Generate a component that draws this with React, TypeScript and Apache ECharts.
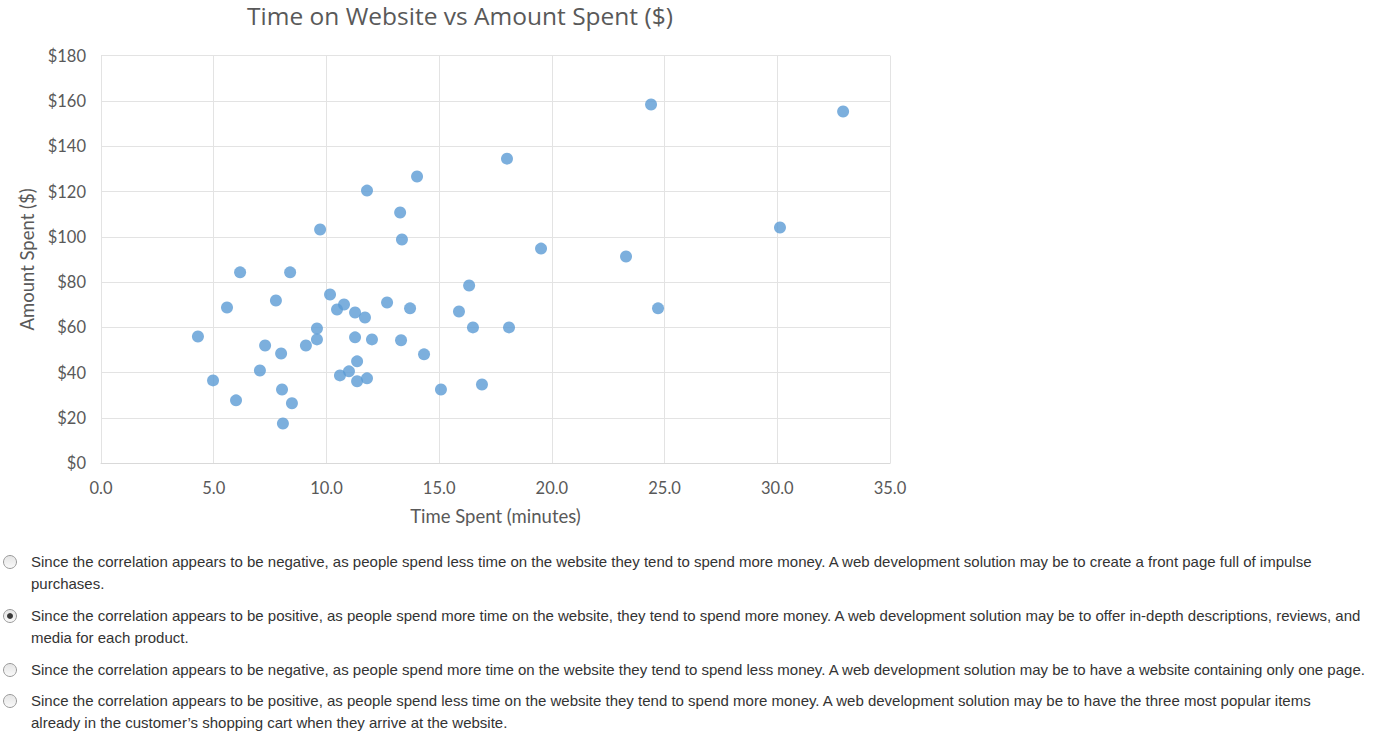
import React, { useEffect, useRef } from "react";
import * as echarts from "echarts";

const timeSpent: number[] = [
  4.3, 4.97, 5.59, 5.99, 6.17, 7.05, 7.28, 7.76, 7.99, 8.03,
  8.07, 8.39, 8.47, 9.09, 9.58, 9.58, 9.72, 10.16, 10.47, 10.6,
  10.78, 11.0, 11.27, 11.27, 11.36, 11.36, 11.71, 11.8, 11.8, 12.02,
  12.69, 13.27, 13.31, 13.35, 13.71, 14.02, 14.33, 15.08, 15.88, 16.33,
  16.5, 16.9, 18.01, 18.1, 19.52, 23.29, 24.4, 24.71, 30.12, 32.92,
];
const amountSpent: number[] = [
  56.0, 36.6, 68.8, 27.8, 84.3, 41.0, 52.0, 71.9, 48.5, 32.6,
  17.6, 84.3, 26.5, 52.0, 59.5, 54.7, 103.2, 74.5, 67.9, 38.8,
  70.1, 40.6, 66.6, 55.6, 45.0, 36.2, 64.4, 120.4, 37.5, 54.7,
  71.0, 110.7, 54.3, 98.8, 68.4, 126.6, 48.1, 32.6, 67.0, 78.5,
  60.0, 34.8, 134.5, 60.0, 94.8, 91.3, 158.4, 68.4, 104.1, 155.3,
];

const chartTitle = "Time on Website vs Amount Spent ($)";
const xName = "Time Spent (minutes)";
const yName = "Amount Spent ($)";

const optionLines: string[][] = [
  [
    "Since the correlation appears to be negative, as people spend less time on the website they tend to spend more money. A web development solution may be to create a front page full of impulse",
    "purchases.",
  ],
  [
    "Since the correlation appears to be positive, as people spend more time on the website, they tend to spend more money. A web development solution may be to offer in-depth descriptions, reviews, and",
    "media for each product.",
  ],
  [
    "Since the correlation appears to be negative, as people spend more time on the website they tend to spend less money. A web development solution may be to have a website containing only one page.",
  ],
  [
    "Since the correlation appears to be positive, as people spend less time on the website they tend to spend more money. A web development solution may be to have the three most popular items",
    "already in the customer\u2019s shopping cart when they arrive at the website.",
  ],
];
const selectedOption = 1;

export default function App() {
  const ref = useRef<HTMLDivElement>(null);
  useEffect(() => {
    if (!ref.current) return;
    const chart = echarts.init(ref.current, undefined, { renderer: "svg" });
    const data = timeSpent.map((t, i) => [t, amountSpent[i]]);

    const optionTops = [561, 615, 669, 700];
    const lineGap = 22;
    const graphics: any[] = [];
    optionLines.forEach((lines, i) => {
      const cy = optionTops[i];
      graphics.push({
        type: "circle",
        shape: { cx: 10, cy: cy + 1, r: 6.5 },
        style: {
          fill: new echarts.graphic.LinearGradient(0, 0, 0, 1, [
            { offset: 0, color: "#e4e4e4" },
            { offset: 1, color: "#fafafa" },
          ]),
          stroke: "#9a9a9a",
          lineWidth: 1,
        },
      });
      if (i === selectedOption) {
        graphics.push({
          type: "circle",
          shape: { cx: 10, cy: cy + 1, r: 3 },
          style: { fill: "#3a3a3a" },
        });
      }
      lines.forEach((ln, j) => {
        graphics.push({
          type: "text",
          x: 31,
          y: cy + j * lineGap,
          style: {
            text: ln,
            fill: "#333333",
            font: "15px 'Liberation Sans', Arial, sans-serif",
            textAlign: "left",
            textVerticalAlign: "middle",
          },
        });
      });
    });

    chart.setOption({
      animation: false,
      backgroundColor: "#ffffff",
      title: {
        text: chartTitle,
        left: 460,
        top: 3,
        padding: 0,
        textAlign: "center",
        textStyle: {
          color: "#595959",
          fontSize: 24.5,
          fontWeight: "normal",
          fontFamily: "'Open Sans', sans-serif",
        },
      },
      grid: { left: 101, top: 55.6, right: 486, bottom: 284.7 },
      xAxis: {
        type: "value",
        min: 0,
        max: 35,
        interval: 5,
        name: xName,
        nameLocation: "middle",
        nameGap: 43,
        nameTextStyle: { color: "#595959", fontSize: 18.5, fontFamily: "Lato, sans-serif" },
        axisLine: { show: true, lineStyle: { color: "#d9d9d9", width: 1 } },
        axisTick: { show: false },
        splitLine: { show: true, lineStyle: { color: "#e3e3e3", width: 1 } },
        axisLabel: {
          color: "#595959",
          fontSize: 16.5,
          fontFamily: "Lato, sans-serif",
          margin: 16,
          formatter: (v: number) => v.toFixed(1),
        },
      },
      yAxis: {
        type: "value",
        min: 0,
        max: 180,
        interval: 20,
        name: yName,
        nameLocation: "middle",
        nameGap: 57,
        nameTextStyle: { color: "#595959", fontSize: 18.5, fontFamily: "Lato, sans-serif" },
        axisLine: { show: true, lineStyle: { color: "#e3e3e3", width: 1 } },
        axisTick: { show: false },
        splitLine: { show: true, lineStyle: { color: "#e3e3e3", width: 1 } },
        axisLabel: {
          color: "#595959",
          fontSize: 16.5,
          fontFamily: "Lato, sans-serif",
          margin: 15,
          formatter: (v: number) => "$" + v,
        },
      },
      series: [
        {
          type: "scatter",
          data: data,
          symbol: "circle",
          symbolSize: 12,
          itemStyle: { color: "#5b9bd5" },
        },
      ],
      graphic: graphics,
    });
    return () => chart.dispose();
  }, []);
  return (
    <div
      ref={ref}
      style={{ position: "absolute", left: 0, top: 0, width: 1376, height: 748 }}
    />
  );
}
